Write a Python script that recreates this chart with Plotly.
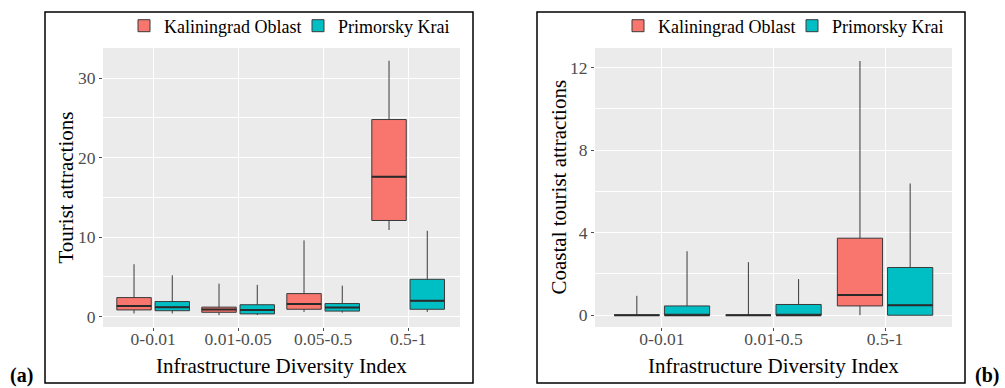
import plotly.graph_objects as go

W, H = 1005, 388

# Panel (a): tourist attractions by infrastructure diversity index
cats_a = ["0-0.01", "0.01-0.05", "0.05-0.5", "0.5-1"]
kal_a_low = [0.4, 0.2, 0.6, 10.9]
kal_a_q1 = [0.85, 0.55, 0.93, 12.1]
kal_a_med = [1.35, 0.9, 1.6, 17.6]
kal_a_q3 = [2.4, 1.2, 2.9, 24.8]
kal_a_high = [6.6, 4.15, 9.6, 32.2]
pri_a_low = [0.4, 0.2, 0.5, 0.6]
pri_a_q1 = [0.75, 0.35, 0.7, 0.93]
pri_a_med = [1.2, 0.85, 1.15, 2.0]
pri_a_q3 = [1.9, 1.5, 1.65, 4.7]
pri_a_high = [5.2, 4.0, 3.9, 10.8]

# Panel (b): coastal tourist attractions
cats_b = ["0-0.01", "0.01-0.5", "0.5-1"]
kal_b_low = [0.0, 0.0, 0.0]
kal_b_q1 = [0.0, 0.0, 0.45]
kal_b_med = [0.0, 0.0, 0.98]
kal_b_q3 = [0.0, 0.0, 3.73]
kal_b_high = [0.94, 2.57, 12.31]
pri_b_low = [0.0, 0.0, 0.0]
pri_b_q1 = [0.0, 0.0, 0.0]
pri_b_med = [0.0, 0.0, 0.48]
pri_b_q3 = [0.45, 0.52, 2.31]
pri_b_high = [3.1, 1.75, 6.38]

RED = "#F8766D"
TEAL = "#00BFC4"
SERIF = "Liberation Serif"
EDGE = "#3a3a3a"

# dodge geometry: two boxes per category share 0.9 of a slot, 10% padding each
BOXGAP = 0.1
GROUPGAP = 0.1
SLOT = (1 - BOXGAP) / 2
HALF_BOX = SLOT * (1 - GROUPGAP) / 2


def box(name, cats, low, q1, med, q3, high, color, xa, ya, legend, panel, group):
    return go.Box(
        name=name, x=cats, lowerfence=low, q1=q1, median=med, q3=q3,
        upperfence=high, fillcolor=color, line=dict(color=EDGE, width=1),
        whiskerwidth=0, boxpoints=False, xaxis=xa, yaxis=ya, legend=legend,
        alignmentgroup=panel, offsetgroup=group, hoverinfo="skip",
    )


fig = go.Figure()
fig.add_trace(box("Kaliningrad Oblast", cats_a, kal_a_low, kal_a_q1, kal_a_med,
                  kal_a_q3, kal_a_high, RED, "x", "y", "legend", "a", "kal"))
fig.add_trace(box("Primorsky Krai", cats_a, pri_a_low, pri_a_q1, pri_a_med,
                  pri_a_q3, pri_a_high, TEAL, "x", "y", "legend", "a", "pri"))
fig.add_trace(box("Kaliningrad Oblast", cats_b, kal_b_low, kal_b_q1, kal_b_med,
                  kal_b_q3, kal_b_high, RED, "x2", "y2", "legend2", "b", "kal"))
fig.add_trace(box("Primorsky Krai", cats_b, pri_b_low, pri_b_q1, pri_b_med,
                  pri_b_q3, pri_b_high, TEAL, "x2", "y2", "legend2", "b", "pri"))

# heavier median bars, ggplot-style
for meds, sign, xr, yr in [(kal_a_med, -1, "x", "y"), (pri_a_med, 1, "x", "y"),
                           (kal_b_med, -1, "x2", "y2"), (pri_b_med, 1, "x2", "y2")]:
    for i, m in enumerate(meds):
        c = i + sign * SLOT / 2
        fig.add_shape(type="line", xref=xr, yref=yr,
                      x0=c - HALF_BOX, x1=c + HALF_BOX, y0=m, y1=m,
                      line=dict(color="#2a2a2a", width=2))


def px(v):
    return v / W


def py(v):
    return 1 - v / H


tick_font = dict(family=SERIF, size=17.5, color="#4D4D4D")
xcommon = dict(type="category", showgrid=True, gridcolor="white", gridwidth=1.2,
               ticks="outside", ticklen=3, tickcolor="#4D4D4D",
               ticklabelstandoff=-7,
               tickfont=tick_font, showline=False, zeroline=False, fixedrange=True)
ycommon = dict(showgrid=True, gridcolor="white", gridwidth=1.2,
               ticks="outside", ticklen=3, tickcolor="#4D4D4D",
               tickfont=tick_font, showline=False, zeroline=False, fixedrange=True)

legend_common = dict(orientation="h", y=py(26), xanchor="left", yanchor="middle",
                     font=dict(family=SERIF, size=18, color="black"),
                     entrywidth=129, bgcolor="rgba(0,0,0,0)",
                     itemclick=False, itemdoubleclick=False)

fig.update_layout(
    width=W, height=H,
    margin=dict(l=0, r=0, t=0, b=0),
    paper_bgcolor="white",
    plot_bgcolor="#EBEBEB",
    boxmode="group", boxgap=BOXGAP, boxgroupgap=GROUPGAP,
    font=dict(family=SERIF, color="black"),
    xaxis=dict(domain=[px(103), px(460)], anchor="y",
               range=[-0.59, 3.61], **xcommon),
    yaxis=dict(domain=[py(327), py(48)], anchor="x",
               range=[-1.3, 33.8], tickvals=[0, 10, 20, 30],
               minor=dict(tickvals=[5, 15, 25], showgrid=True,
                          gridcolor="white", gridwidth=0.6, ticks=""),
               **ycommon),
    xaxis2=dict(domain=[px(595), px(952)], anchor="y2",
                range=[-0.6, 2.6], **xcommon),
    yaxis2=dict(domain=[py(327), py(48)], anchor="x2",
                range=[-0.57, 12.94], tickvals=[0, 4, 8, 12],
                minor=dict(tickvals=[2, 6, 10], showgrid=True,
                           gridcolor="white", gridwidth=0.6, ticks=""),
                **ycommon),
    legend=dict(x=px(124), **legend_common),
    legend2=dict(x=px(618), **legend_common),
)

# panel frames
for x0, x1 in [(45, 473), (537, 965)]:
    fig.add_shape(type="rect", xref="paper", yref="paper",
                  x0=px(x0), x1=px(x1), y0=py(383), y1=py(12),
                  line=dict(color="black", width=1.5), fillcolor="rgba(0,0,0,0)")

title_font = dict(family=SERIF, size=21, color="black")
annos = [
    dict(text="Infrastructure Diversity Index", x=px(281.5), y=py(366)),
    dict(text="Infrastructure Diversity Index", x=px(773.5), y=py(366)),
    dict(text="Tourist attractions", x=px(65), y=py(187.5), textangle=-90),
    dict(text="Coastal tourist attractions", x=px(558), y=py(187.5), textangle=-90),
]
for a in annos:
    fig.add_annotation(xref="paper", yref="paper", xanchor="center",
                       yanchor="middle", showarrow=False, font=title_font, **a)

for txt, x in [("(a)", 21), ("(b)", 987)]:
    fig.add_annotation(text="<b>%s</b>" % txt, xref="paper", yref="paper",
                       x=px(x), y=0, xanchor="center", yanchor="bottom",
                       showarrow=False, borderpad=0,
                       font=dict(family=SERIF, size=20, color="black"))

fig.write_html("out.html")
